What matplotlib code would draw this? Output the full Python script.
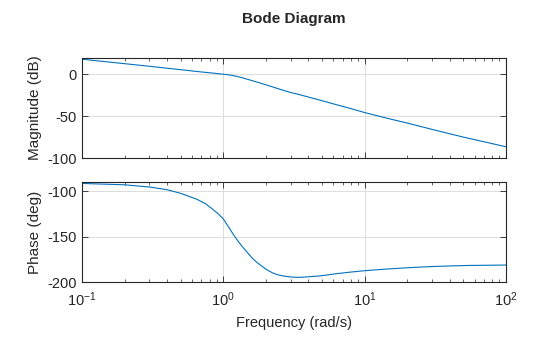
import matplotlib
matplotlib.use("Agg")
import matplotlib.pyplot as plt
from matplotlib.ticker import LogLocator, NullFormatter

# values
mag_freq = [0.1, 0.2, 0.3, 0.5, 0.7, 0.85, 1.0, 1.08, 1.17, 1.3, 1.5, 1.75,
            2.0, 2.25, 2.5, 3.0, 3.5, 4.0, 5.0, 6.0, 8.0, 10, 15, 20, 30, 40,
            50, 100]
mag_db = [17.9, 12.6, 9.5, 5.4, 2.7, 1.3, 0.0, -0.6, -1.6, -3.3, -6.3, -9.6,
          -12.6, -15.3, -17.8, -21.8, -24.6, -27.2, -31.6, -35.3, -41.0,
          -45.7, -53.2, -58.2, -65.8, -71.0, -75.0, -86.5]

phase_freq = [0.1, 0.2, 0.3, 0.4, 0.5, 0.65, 0.75, 0.85, 0.92, 1.0, 1.08,
              1.17, 1.27, 1.38, 1.5, 1.62, 1.75, 1.91, 2.05, 2.24, 2.4, 2.63,
              3.0, 3.29, 3.6, 4.0, 4.83, 5.5, 6.3, 8.0, 10, 14, 18.5, 25,
              31.8, 42, 55.6, 75, 100]
phase_deg = [-91.6, -93.1, -95.5, -98.5, -102.5, -109, -114, -120.5, -125,
             -130.6, -138.5, -147, -155, -162, -168.5, -174.5, -179, -183.5,
             -186.8, -190, -191.8, -193.2, -194.4, -194.8, -194.7, -194.2,
             -193.2, -192.1, -190.8, -189.0, -187.5, -185.8, -184.6, -183.5,
             -182.8, -182.2, -181.7, -181.5, -181.3]

mag_ticks = [-100, -50, 0]
phase_ticks = [-200, -150, -100]

plt.rcParams['font.family'] = ['Liberation Sans', 'DejaVu Sans']
plt.rcParams['mathtext.default'] = 'regular'
plt.rcParams['axes.unicode_minus'] = False

line_color = '#0072BD'
dark = '#262626'

fig = plt.figure(figsize=(5.6, 3.37), dpi=100)
ax_mag = fig.add_axes([0.1464, 0.531, 0.757, 0.297])
ax_ph = fig.add_axes([0.1464, 0.163, 0.757, 0.297])

ax_mag.plot(mag_freq, mag_db, color=line_color, lw=0.8)
ax_ph.plot(phase_freq, phase_deg, color=line_color, lw=0.8)

for ax in (ax_mag, ax_ph):
    ax.set_xscale('log')
    ax.set_xlim(0.1, 100)
    ax.grid(True, which='major', color='#dcdcdc', lw=0.7)
    ax.set_axisbelow(True)
    ax.xaxis.set_minor_locator(LogLocator(base=10, subs=range(2, 10)))
    ax.xaxis.set_minor_formatter(NullFormatter())
    ax.tick_params(which='both', direction='in', top=True, right=True,
                   colors=dark, labelsize=10.5)
    ax.tick_params(which='major', length=4, width=0.6)
    ax.tick_params(which='minor', length=2.5, width=0.5)
    for sp in ax.spines.values():
        sp.set_color(dark)
        sp.set_linewidth(0.8)

ax_mag.set_ylim(-100, 19.4)
ax_mag.set_yticks(mag_ticks)
ax_mag.tick_params(labelbottom=False)
ax_mag.set_ylabel('Magnitude (dB)', fontsize=11, color=dark)

ax_ph.set_ylim(-200, -90)
ax_ph.set_yticks(phase_ticks)
ax_ph.tick_params(axis='x', which='major', pad=6)
ax_ph.set_ylabel('Phase (deg)', fontsize=11, color=dark)
ax_ph.set_xlabel('Frequency (rad/s)', fontsize=10.5, color=dark, labelpad=5)

for ax in (ax_mag, ax_ph):
    ax.yaxis.set_label_coords(-0.095, 0.5)

fig.text(0.525, 0.945, 'Bode Diagram', ha='center', va='center',
         fontsize=11, fontweight='bold', color=dark)

fig.savefig('out.png', dpi=100)
